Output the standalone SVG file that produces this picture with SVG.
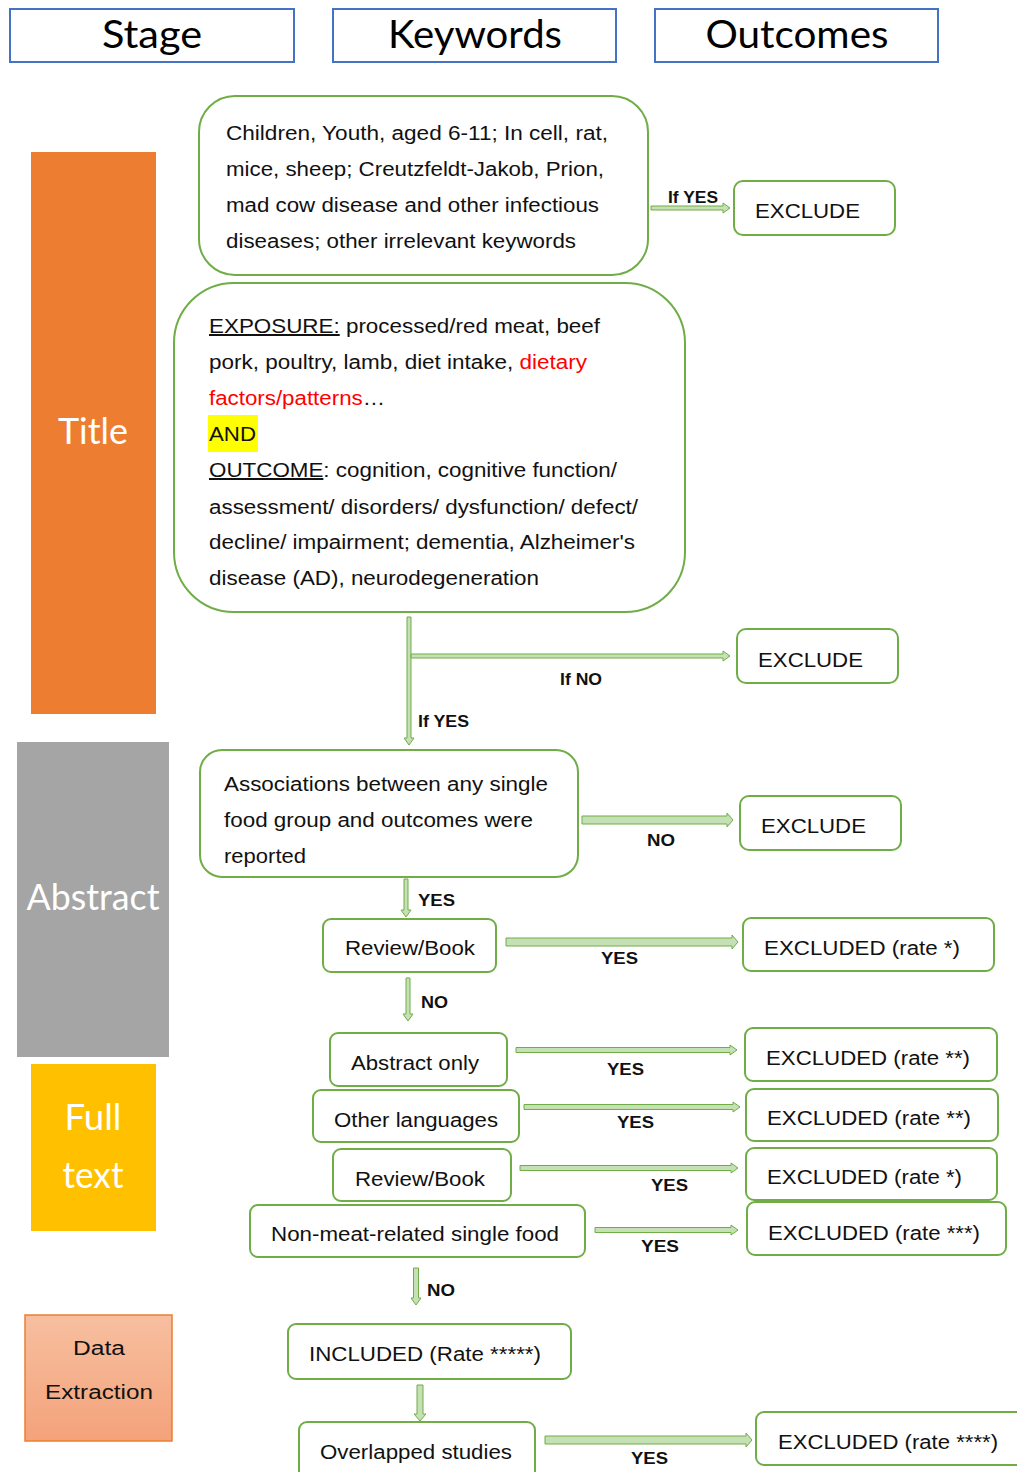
<svg xmlns="http://www.w3.org/2000/svg" width="1017" height="1472" viewBox="0 0 1017 1472">
<defs>
<linearGradient id="peach" x1="0" y1="0" x2="0" y2="1">
<stop offset="0" stop-color="#f7bfa0"/>
<stop offset="1" stop-color="#f4a27a"/>
</linearGradient>
</defs>
<style>
.hdr{fill:#fff;stroke:#4472c4;stroke-width:2}
.htx{font-family:Lato,"Open Sans",sans-serif;font-size:38px;fill:#000;text-anchor:middle}
.stg{font-family:Lato,"Open Sans",sans-serif;font-size:36px;fill:#fff;text-anchor:middle}
.box{fill:#fff;stroke:#70ad47;stroke-width:2}
.tx{font-family:"Liberation Sans",Arial,sans-serif;font-size:20px;fill:#111}
.lb{font-family:"Liberation Sans",Arial,sans-serif;font-size:16px;font-weight:bold;fill:#111}
.arr{fill:#c5e0b4;stroke:#70ad47;stroke-width:1}
.red{fill:#ff0000}
.ul{text-decoration:underline}
</style>
<rect width="1017" height="1472" fill="#fff"/>

<g id="header-stage"><rect class="hdr" x="10" y="9" width="284" height="53"/><text class="htx" x="152" y="48" textLength="100" lengthAdjust="spacingAndGlyphs">Stage</text></g>
<g id="header-keywords"><rect class="hdr" x="333" y="9" width="283" height="53"/><text class="htx" x="475" y="48" textLength="174" lengthAdjust="spacingAndGlyphs">Keywords</text></g>
<g id="header-outcomes"><rect class="hdr" x="655" y="9" width="283" height="53"/><text class="htx" x="797" y="48" textLength="183" lengthAdjust="spacingAndGlyphs">Outcomes</text></g>

<g id="stage-title"><rect x="31" y="152" width="125" height="562" fill="#ed7d31"/><text class="stg" x="93" y="444" textLength="70" lengthAdjust="spacingAndGlyphs">Title</text></g>
<g id="stage-abstract"><rect x="17" y="742" width="152" height="315" fill="#a5a5a5"/><text class="stg" x="93" y="910" textLength="133" lengthAdjust="spacingAndGlyphs">Abstract</text></g>
<g id="stage-fulltext"><rect x="31" y="1064" width="125" height="167" fill="#ffc000"/><text class="stg" x="93" y="1130" textLength="57" lengthAdjust="spacingAndGlyphs">Full</text><text class="stg" x="93" y="1188" textLength="61" lengthAdjust="spacingAndGlyphs">text</text></g>
<g id="stage-data"><rect x="25" y="1315" width="147" height="126" fill="url(#peach)" stroke="#ed7d31" stroke-width="1.5"/><text class="tx" x="99" y="1355" text-anchor="middle" font-size="21" textLength="52" lengthAdjust="spacingAndGlyphs">Data</text><text class="tx" x="99" y="1399" text-anchor="middle" font-size="21" textLength="108" lengthAdjust="spacingAndGlyphs">Extraction</text></g>

<g id="kw-exclusions"><rect class="box" x="199" y="96" width="449" height="179" rx="36"/>
<text class="tx" x="226" y="140" textLength="382" lengthAdjust="spacingAndGlyphs">Children, Youth, aged 6-11; In cell, rat,</text>
<text class="tx" x="226" y="176" textLength="378" lengthAdjust="spacingAndGlyphs">mice, sheep; Creutzfeldt-Jakob, Prion,</text>
<text class="tx" x="226" y="212" textLength="373" lengthAdjust="spacingAndGlyphs">mad cow disease and other infectious</text>
<text class="tx" x="226" y="248" textLength="350" lengthAdjust="spacingAndGlyphs">diseases; other irrelevant keywords</text>
</g>

<g id="kw-exposure"><rect class="box" x="174" y="283" width="511" height="329" rx="60"/>
<rect x="208" y="415" width="50" height="37" fill="#ffff00"/>
<text class="tx" x="209" y="333" textLength="391" lengthAdjust="spacingAndGlyphs"><tspan class="ul">EXPOSURE:</tspan> processed/red meat, beef</text>
<text class="tx" x="209" y="369" textLength="378" lengthAdjust="spacingAndGlyphs">pork, poultry, lamb, diet intake, <tspan class="red">dietary</tspan></text>
<text class="tx" x="209" y="405" textLength="176" lengthAdjust="spacingAndGlyphs"><tspan class="red">factors/patterns</tspan>…</text>
<text class="tx" x="209" y="441" textLength="47" lengthAdjust="spacingAndGlyphs">AND</text>
<text class="tx" x="209" y="477" textLength="408" lengthAdjust="spacingAndGlyphs"><tspan class="ul">OUTCOME</tspan>: cognition, cognitive function/</text>
<text class="tx" x="209" y="514" textLength="429" lengthAdjust="spacingAndGlyphs">assessment/ disorders/ dysfunction/ defect/</text>
<text class="tx" x="209" y="549" textLength="426" lengthAdjust="spacingAndGlyphs">decline/ impairment; dementia, Alzheimer's</text>
<text class="tx" x="209" y="585" textLength="330" lengthAdjust="spacingAndGlyphs">disease (AD), neurodegeneration</text>
</g>

<g id="out-exclude-1"><rect class="box" x="734" y="181" width="161" height="54" rx="9"/><text class="tx" x="755" y="218" textLength="105" lengthAdjust="spacingAndGlyphs">EXCLUDE</text></g>
<g id="out-exclude-2"><rect class="box" x="737" y="629" width="161" height="54" rx="9"/><text class="tx" x="758" y="667" textLength="105" lengthAdjust="spacingAndGlyphs">EXCLUDE</text></g>

<g id="abstract-assoc"><rect class="box" x="200" y="750" width="378" height="127" rx="22"/>
<text class="tx" x="224" y="791" textLength="324" lengthAdjust="spacingAndGlyphs">Associations between any single</text>
<text class="tx" x="224" y="827" textLength="309" lengthAdjust="spacingAndGlyphs">food group and outcomes were</text>
<text class="tx" x="224" y="863" textLength="82" lengthAdjust="spacingAndGlyphs">reported</text>
</g>
<g id="out-exclude-3"><rect class="box" x="740" y="796" width="161" height="54" rx="9"/><text class="tx" x="761" y="833" textLength="105" lengthAdjust="spacingAndGlyphs">EXCLUDE</text></g>

<g id="review-book-1"><rect class="box" x="323" y="919" width="173" height="53" rx="8"/><text class="tx" x="345" y="955" textLength="130" lengthAdjust="spacingAndGlyphs">Review/Book</text></g>
<g id="out-excluded-r1"><rect class="box" x="743" y="918" width="251" height="53" rx="8"/><text class="tx" x="764" y="955" textLength="196" lengthAdjust="spacingAndGlyphs">EXCLUDED (rate *)</text></g>

<g id="abstract-only"><rect class="box" x="330" y="1033" width="177" height="53" rx="8"/><text class="tx" x="351" y="1070" textLength="128" lengthAdjust="spacingAndGlyphs">Abstract only</text></g>
<g id="out-excluded-r2a"><rect class="box" x="745" y="1028" width="252" height="53" rx="8"/><text class="tx" x="766" y="1065" textLength="204" lengthAdjust="spacingAndGlyphs">EXCLUDED (rate **)</text></g>

<g id="other-languages"><rect class="box" x="313" y="1090" width="206" height="52" rx="8"/><text class="tx" x="334" y="1127" textLength="164" lengthAdjust="spacingAndGlyphs">Other languages</text></g>
<g id="out-excluded-r2b"><rect class="box" x="746" y="1089" width="252" height="52" rx="8"/><text class="tx" x="767" y="1125" textLength="204" lengthAdjust="spacingAndGlyphs">EXCLUDED (rate **)</text></g>

<g id="review-book-2"><rect class="box" x="333" y="1149" width="178" height="52" rx="8"/><text class="tx" x="355" y="1186" textLength="130" lengthAdjust="spacingAndGlyphs">Review/Book</text></g>
<g id="out-excluded-r1b"><rect class="box" x="746" y="1148" width="251" height="52" rx="8"/><text class="tx" x="767" y="1184" textLength="195" lengthAdjust="spacingAndGlyphs">EXCLUDED (rate *)</text></g>

<g id="non-meat"><rect class="box" x="250" y="1205" width="335" height="52" rx="8"/><text class="tx" x="271" y="1241" textLength="288" lengthAdjust="spacingAndGlyphs">Non-meat-related single food</text></g>
<g id="out-excluded-r3"><rect class="box" x="747" y="1202" width="259" height="53" rx="8"/><text class="tx" x="768" y="1240" textLength="212" lengthAdjust="spacingAndGlyphs">EXCLUDED (rate ***)</text></g>

<g id="included"><rect class="box" x="288" y="1324" width="283" height="55" rx="8"/><text class="tx" x="309" y="1361" textLength="232" lengthAdjust="spacingAndGlyphs">INCLUDED (Rate *****)</text></g>
<g id="overlapped"><rect class="box" x="299" y="1422" width="236" height="60" rx="8"/><text class="tx" x="320" y="1459" textLength="192" lengthAdjust="spacingAndGlyphs">Overlapped studies</text></g>
<g id="out-excluded-r4"><rect class="box" x="756" y="1412" width="270" height="53" rx="8"/><text class="tx" x="778" y="1449" textLength="220" lengthAdjust="spacingAndGlyphs">EXCLUDED (rate ****)</text></g>

<g id="connectors">
<polygon class="arr" points="651,206 723,206 723,203 730,208 723,213 723,210 651,210"/>
<polygon class="arr" points="407,617 411,617 411,738 414,738 409,745 404,738 407,738"/>
<polygon class="arr" points="411,654 723,654 723,651 730,656 723,661 723,658 411,658"/>
<polygon class="arr" points="582,816 727,816 727,813 733,820 727,827 727,824 582,824"/>
<polygon class="arr" points="404,879 408,879 408,910 411,910 406,917 401,910 404,910"/>
<polygon class="arr" points="506,938 732,938 732,935 738,942 732,949 732,946 506,946"/>
<polygon class="arr" points="406,978 410,978 410,1014 413,1014 408,1021 403,1014 406,1014"/>
<polygon class="arr" points="516,1047.5 730,1047.5 730,1045 737,1050 730,1055 730,1052.5 516,1052.5"/>
<polygon class="arr" points="524,1104.5 733,1104.5 733,1102 740,1107 733,1112 733,1109.5 524,1109.5"/>
<polygon class="arr" points="520,1165.5 731,1165.5 731,1163 738,1168 731,1173 731,1170.5 520,1170.5"/>
<polygon class="arr" points="595,1227.5 731,1227.5 731,1225 738,1230 731,1235 731,1232.5 595,1232.5"/>
<polygon class="arr" points="413.5,1268 418.5,1268 418.5,1298 421,1298 416,1305 411,1298 413.5,1298"/>
<polygon class="arr" points="417,1385 423,1385 423,1414 426,1414 420,1421 414,1414 417,1414"/>
<polygon class="arr" points="545,1436 746,1436 746,1433 752,1440 746,1447 746,1444 545,1444"/>
<text class="lb" x="668" y="203" textLength="50" lengthAdjust="spacingAndGlyphs">If YES</text>
<text class="lb" x="560" y="685" textLength="42" lengthAdjust="spacingAndGlyphs">If NO</text>
<text class="lb" x="418" y="727" textLength="51" lengthAdjust="spacingAndGlyphs">If YES</text>
<text class="lb" x="647" y="846" textLength="28" lengthAdjust="spacingAndGlyphs">NO</text>
<text class="lb" x="418" y="906" textLength="37" lengthAdjust="spacingAndGlyphs">YES</text>
<text class="lb" x="601" y="964" textLength="37" lengthAdjust="spacingAndGlyphs">YES</text>
<text class="lb" x="421" y="1008" textLength="27" lengthAdjust="spacingAndGlyphs">NO</text>
<text class="lb" x="607" y="1075" textLength="37" lengthAdjust="spacingAndGlyphs">YES</text>
<text class="lb" x="617" y="1128" textLength="37" lengthAdjust="spacingAndGlyphs">YES</text>
<text class="lb" x="651" y="1191" textLength="37" lengthAdjust="spacingAndGlyphs">YES</text>
<text class="lb" x="641" y="1252" textLength="38" lengthAdjust="spacingAndGlyphs">YES</text>
<text class="lb" x="427" y="1296" textLength="28" lengthAdjust="spacingAndGlyphs">NO</text>
<text class="lb" x="631" y="1464" textLength="37" lengthAdjust="spacingAndGlyphs">YES</text>
</g>
</svg>
